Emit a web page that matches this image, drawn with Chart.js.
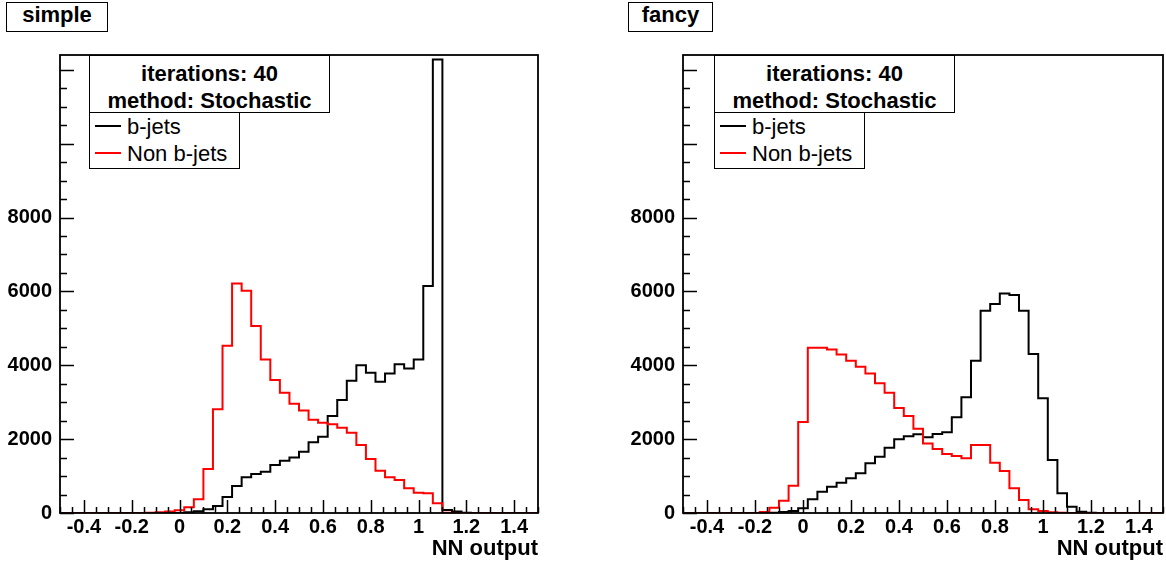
<!DOCTYPE html>
<html>
<head>
<meta charset="utf-8">
<script src="https://cdn.jsdelivr.net/npm/chart.js@4/dist/chart.umd.min.js"></script>
<style>
	body { margin: 0; background: #fff; }
	#wrap { position: relative; width: 1166px; height: 565px; font-family: "Liberation Sans", Arial, sans-serif; color: #000; }
	canvas { position: absolute; top: 0; }
	.pad-title { position: absolute; top: 2px; height: 30px; box-sizing: border-box; border: 1.5px solid #000; background: #fff;
		font-weight: bold; font-size: 22px; line-height: 23px; text-align: center; }
	.stats { position: absolute; top: 55px; width: 241px; height: 58px; box-sizing: border-box; border: 1.5px solid #000; background: #fff;
		font-weight: bold; font-size: 22px; line-height: 27px; text-align: center; padding-top: 4px; white-space: nowrap; }
	.leg { position: absolute; top: 112px; height: 57px; box-sizing: border-box; border: 1.5px solid #000; background: #fff;
		font-size: 22px; line-height: 27px; padding-left: 5px; white-space: nowrap; }
	.leg span { display: inline-block; width: 26px; height: 0; border-top: 2px solid #000; vertical-align: middle; margin-right: 6px; margin-top: -4px; }
</style>
</head>
<body>
<div id="wrap">
	<canvas id="simpleChart" width="560" height="565" style="left:0"></canvas>
	<canvas id="fancyChart" width="544" height="565" style="left:622px"></canvas>

	<div class="pad-title" style="left:6px; width:102px;">simple</div>
	<div class="stats" style="left:89px;">iterations: 40<br>method: Stochastic</div>
	<div class="leg" style="left:89px; width:151px;"><span></span>b-jets<br><span style="border-color:#f00"></span>Non b-jets</div>

	<div class="pad-title" style="left:628px; width:85px;">fancy</div>
	<div class="stats" style="left:714px;">iterations: 40<br>method: Stochastic</div>
	<div class="leg" style="left:714px; width:151px;"><span></span>b-jets<br><span style="border-color:#f00"></span>Non b-jets</div>
</div>

<script>
// histogram binning : 50 bins from -0.5 to 1.5
var xMin = -0.5;
var xMax = 1.5;
var binWidth = 0.04;
var yMax = 12400;

var xLabels = [-0.4, -0.2, 0, 0.2, 0.4, 0.6, 0.8, 1, 1.2, 1.4];
var yLabels = [0, 2000, 4000, 6000, 8000];

// simple
var simpleB = [
	0, 0, 0, 0, 0, 0, 0, 0, 0, 0,
	0, 0, 0, 20, 50, 100, 190, 433, 731, 966,
	1055, 1118, 1299, 1416, 1500, 1655, 1917, 2065, 2625, 3058,
	3580, 3997, 3797, 3553, 3780, 4024, 3915, 4159, 6143, 12280,
	80, 40, 10, 0, 0, 0, 0, 0, 0, 0
];
var simpleNonB = [
	0, 0, 0, 0, 0, 0, 0, 0, 0, 10,
	20, 40, 75, 154, 370, 1190, 2806, 4527, 6215, 6016,
	5060, 4159, 3599, 3256, 2960, 2775, 2525, 2444, 2400, 2309,
	2174, 1840, 1461, 1145, 966, 893, 668, 550, 532, 262,
	10, 0, 0, 0, 0, 0, 0, 0, 0, 0
];

// fancy
var fancyB = [
	0, 0, 0, 0, 0, 0, 0, 0, 0, 10,
	25, 54, 126, 370, 577, 712, 820, 938, 1074, 1345,
	1524, 1767, 1994, 2075, 2129, 2048, 2138, 2183, 2590, 3131,
	4121, 5474, 5656, 5945, 5899, 5474, 4303, 3104, 1434, 533,
	170, 35, 10, 0, 0, 0, 0, 0, 0, 0
];
var fancyNonB = [
	0, 0, 0, 0, 0, 0, 0, 0, 30, 144,
	333, 739, 2463, 4474, 4474, 4429, 4294, 4121, 3959, 3780,
	3510, 3256, 2840, 2625, 2282, 1880, 1732, 1597, 1542, 1480,
	1840, 1840, 1361, 1137, 668, 352, 100, 54, 20, 10,
	0, 0, 0, 0, 0, 0, 0, 0, 0, 0
];

// bin contents -> step points (left edge of each bin + closing right edge)
function toSteps(values) {
	var pts = values.map(function(v, i) {
		return { x: xMin + i * binWidth, y: v };
	});
	pts.push({ x: xMax, y: values[values.length - 1] });
	return pts;
}

// ROOT style frame + ticks pointing inward
var rootFrame = {
	id: 'rootFrame',
	afterDatasetsDraw: function(chart) {
		var ctx = chart.ctx;
		var a = chart.chartArea;
		var x = chart.scales.x;
		var y = chart.scales.y;
		ctx.save();
		ctx.strokeStyle = '#000';
		ctx.lineWidth = 1.5;
		ctx.beginPath();
		for (var k = 0; k <= 40; k++) {
			var v = xMin + k * 0.05;
			var major = Math.abs(v / 0.2 - Math.round(v / 0.2)) < 1e-6;
			var px = Math.round(x.getPixelForValue(v)) + 0.5;
			ctx.moveTo(px, a.bottom);
			ctx.lineTo(px, a.bottom - (major ? 13 : 6));
		}
		for (var j = 0; j * 500 <= yMax; j++) {
			var py = Math.round(y.getPixelForValue(j * 500)) + 0.5;
			ctx.moveTo(a.left, py);
			ctx.lineTo(a.left + (j % 4 === 0 ? 14 : 7), py);
		}
		ctx.stroke();
		ctx.lineWidth = 1.8;
		ctx.strokeRect(a.left, a.top, a.right - a.left, a.bottom - a.top);
		ctx.restore();
	}
};

var tickFont = { family: '"Liberation Sans", Arial, sans-serif', size: 20, weight: 'bold' };
var titleFont = { family: '"Liberation Sans", Arial, sans-serif', size: 22, weight: 'bold' };

function makeChart(id, bValues, nonBValues, yWidth, padRight) {
	return new Chart(document.getElementById(id), {
		type: 'line',
		data: {
			datasets: [
				{ label: 'Non b-jets', data: toSteps(nonBValues), borderColor: '#ff0000', borderWidth: 2, stepped: true, pointRadius: 0, fill: false },
				{ label: 'b-jets', data: toSteps(bValues), borderColor: '#000000', borderWidth: 2, stepped: true, pointRadius: 0, fill: false }
			]
		},
		options: {
			responsive: false,
			animation: false,
			layout: { padding: { top: 55, right: padRight, left: 0, bottom: 0 } },
			plugins: { legend: { display: false }, tooltip: { enabled: false } },
			scales: {
				x: {
					type: 'linear', min: xMin, max: xMax,
					grid: { display: false, drawTicks: false },
					border: { display: false },
					afterBuildTicks: function(s) { s.ticks = xLabels.map(function(v) { return { value: v }; }); },
					ticks: { color: '#000', font: tickFont, padding: 2, maxRotation: 0, autoSkip: false,
						callback: function(v) { return String(v); } },
					title: { display: true, text: 'NN output', align: 'end', color: '#000', font: titleFont, padding: { top: 0, bottom: 3 } },
					afterFit: function(s) { s.height = 52; }
				},
				y: {
					min: 0, max: yMax,
					grid: { display: false, drawTicks: false },
					border: { display: false },
					afterBuildTicks: function(s) { s.ticks = yLabels.map(function(v) { return { value: v }; }); },
					ticks: { color: '#000', font: tickFont, padding: 8, autoSkip: false,
						callback: function(v) { return String(v); } },
					afterFit: function(s) { s.width = yWidth; }
				}
			}
		},
		plugins: [rootFrame]
	});
}

makeChart('simpleChart', simpleB, simpleNonB, 60, 22);
makeChart('fancyChart', fancyB, fancyNonB, 61, 3);
</script>
</body>
</html>
